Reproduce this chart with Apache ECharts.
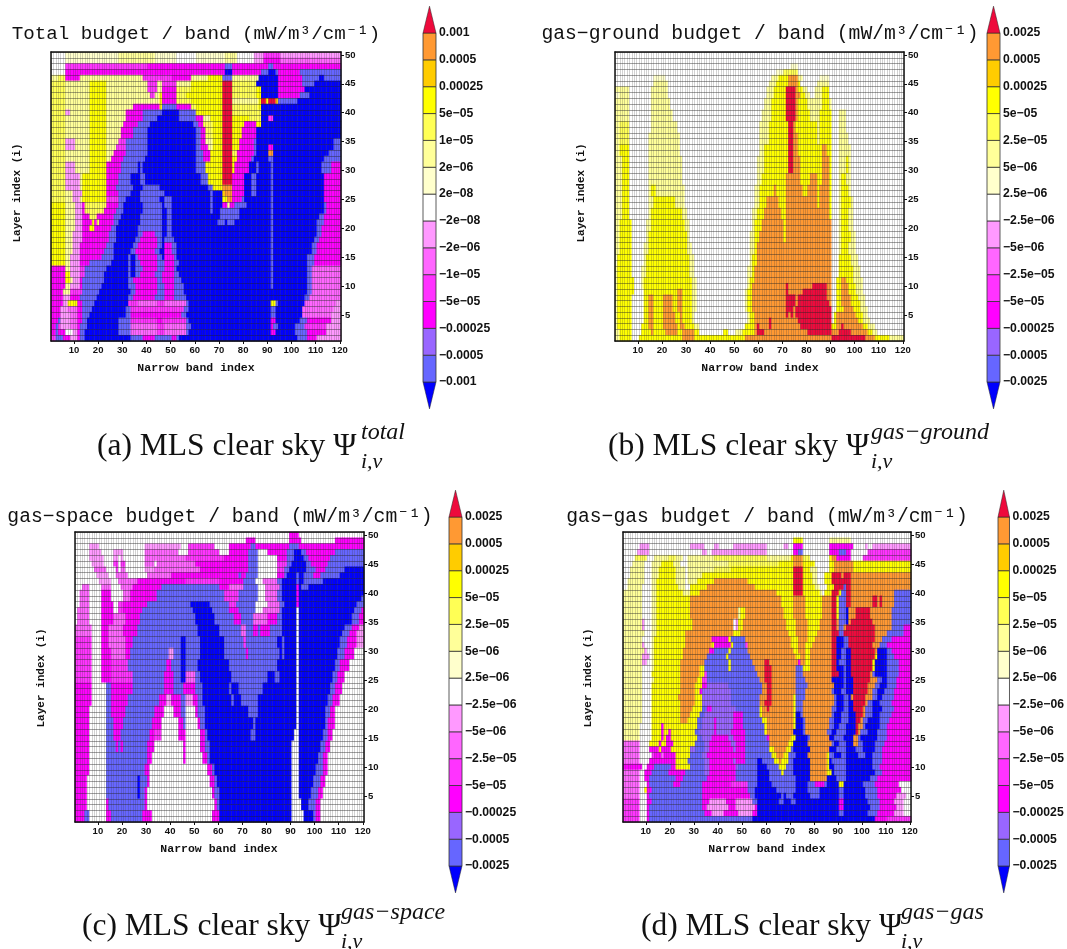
<!DOCTYPE html>
<html><head><meta charset="utf-8">
<style>html,body{margin:0;padding:0;background:#fff}#c{width:1067px;height:949px}</style>
<script src="https://cdn.jsdelivr.net/npm/echarts@6/dist/echarts.min.js"></script>
</head><body><div id="c"></div>
<script>
// Class letters, from lowest to highest budget class
const classLetters = "bsvmjilwpuyYGOR";
const classColors = ["#0000ff","#6666ff","#9966ff","#ff00ff","#ff33ff","#ff66ff","#ff99ff","#ffffff","#ffffcc","#ffff99","#ffff55","#ffff00","#ffcc00","#ff9933","#ee0a3c"];

const totalTicks = ["−0.001","−0.0005","−0.00025","−5e−05","−1e−05","−2e−06","−2e−08","2e−08","2e−06","1e−05","5e−05","0.00025","0.0005","0.001"];
const otherTicks = ["−0.0025","−0.0005","−0.00025","−5e−05","−2.5e−05","−5e−06","−2.5e−06","2.5e−06","5e−06","2.5e−05","5e−05","0.00025","0.0005","0.0025"];

// Each row: layer 50 downward; "letter+last band" runs; "n*" repeats a row n times.
const totalRows = [
"w6 p28 u43 p52 w60 p72 u77 w84 l88 j95 l120",
"w6 p28 u43 p52 w60 p72 u77 w84 l88 m95 i120",
"w6 j40 m72 s75 m90 s92 m120",
"w6 m72 b75 m87 s90 b93 s94 m103 s120",
"u3 y6 m12 u38 j50 m58 u65 Y71 s75 u86 b94 m104 s111 b113 s120",
"y6 u16 Y23 u40 j44 u46 j52 u58 Y71 R75 y85 b94 m104 s109 b120",
"y6 u16 Y23 u40 j44 u46 m52 y58 Y71 R75 y85 Y87 b94 m105 b120",
"y6 u16 Y23 u41 j43 u45 Y46 m52 y56 Y71 R75 y85 Y87 b94 m103 s107 b120",
"y6 u16 Y23 u34 u45 Y46 m52 y58 Y71 R75 u86 Y87 R89 Y90 R93 G94 s102 b120",
"y6 u16 Y23 u34 m45 Y46 s52 m58 y60 Y71 R75 y86 Y87 b120",
"y6 l8 u16 Y23 u31 m38 s46 b53 s60 Y71 R75 y87 b120",
"y6 u16 Y23 u31 m38 s44 b53 s60 m63 u66 Y71 R75 Y82 y87 b90 j92 b120",
"y6 u16 Y23 u30 m36 s41 b59 s61 m63 y67 Y71 R75 Y80 m85 Y87 b120",
"2*y6 u16 Y23 u29 m34 s40 b60 s62 m64 y67 Y71 R75 Y79 m85 b120",
"y6 l10 u16 Y23 u28 j31 s40 b60 s62 m64 u67 Y71 R75 Y78 m84 s85 b117 s120",
"y6 l10 u16 Y23 u27 j31 s40 b60 s62 m65 u67 Y71 R75 Y78 m84 s85 b90 m92 b117 s120",
"y6 u16 Y23 u26 m31 s40 b60 s63 m66 Y71 R75 y77 m84 s85 b90 O92 b115 s120",
"y6 u16 Y23 u25 m30 s39 b60 s63 m66 Y71 R75 Y77 m83 s84 b90 s92 b113 s120",
"2*y6 l10 u16 Y23 m29 s36 b37 s38 b60 s64 Y71 R75 Y76 m82 b85 s86 b91 s92 b112 s116 m120",
"2*y6 l12 u13 Y23 m28 s33 b37 s39 b62 s65 Y71 R75 m80 b83 s85 b91 s92 b113 m120",
"y6 l12 u13 Y23 m27 s34 b38 s45 b65 s67 Y71 O75 m80 b83 s85 b91 s92 b113 m120",
"y6 u9 l13 Y23 m28 s33 b37 s47 b66 s67 b71 G72 O75 m80 b83 s85 b91 s92 b113 m120",
"y6 u9 l12 u13 Y23 j28 s31 b37 s45 b47 s50 b66 s67 b71 Y73 O75 m79 s80 b91 s92 b113 m120",
"Y6 u10 l13 m14 y23 m28 s30 b38 s46 b47 s50 b66 s67 b71 m73 u74 m76 s81 b91 s92 b113 s114 m120",
"Y6 u10 l13 m14 y22 m27 s30 b38 s46 b48 s50 b66 s67 b70 s78 b91 s92 b113 s114 m120",
"Y6 u10 l13 m16 y19 m26 s29 b37 s46 b48 s50 b70 s78 b91 s92 b111 s113 m120",
"Y6 u10 l13 m17 Y18 m19 y20 m26 s28 b37 s46 b48 s50 b69 s72 b73 s76 b91 s92 b110 s113 m120",
"Y6 u10 l13 m16 Y18 m25 s27 b36 s46 b48 s50 b91 s92 b110 s112 m120",
"Y6 u9 l13 m24 s27 b36 s38 m43 s46 b48 s50 b91 s92 b110 s112 m120",
"Y6 u9 l13 m24 s27 b35 s37 m44 s46 b47 s51 b91 s92 b109 s111 m120",
"Y6 u9 l12 m23 s26 b34 s36 m44 s46 b47 m50 s52 b91 s92 b108 s110 m120",
"Y6 u9 l12 m22 s26 b33 s35 m43 s45 b47 m50 s52 b91 s92 b108 s110 m120",
"Y6 u8 l12 m21 s26 b32 s33 b35 s36 m44 s46 b47 m51 s52 b91 s92 b106 s109 m120",
"Y6 u8 l12 m16 s25 b32 s33 b35 s37 m44 s47 m51 s53 b91 s92 b106 s109 m120",
"m6 u8 l12 j14 s23 b32 s33 b35 s38 m44 s47 m51 s52 b91 s92 b106 s108 i120",
"m6 Y8 l12 j14 s22 b32 s33 b35 s37 m43 s46 m51 s53 b91 s92 b106 s108 i120",
"m6 Y8 u9 l12 m13 s22 b32 s34 m44 s46 m51 s54 b91 s92 b106 s108 i120",
"m6 u8 l12 m13 s21 b32 s35 m44 s47 m51 s55 b91 s92 b106 s108 i120",
"m5 u8 j13 s20 b33 s35 m44 s47 m51 s55 b106 s108 i120",
"m5 l8 m12 s19 b32 s34 m43 s47 m51 s56 b105 s107 i120",
"m5 l7 Y11 m13 s18 b32 j36 i44 j47 i56 s57 b91 Y93 s94 b105 i118 l120",
"m4 l7 i11 m13 s17 b31 s33 j55 s57 b91 s93 b104 i117 l120",
"m4 l8 i11 m13 s16 b31 s33 m54 s56 b91 s93 b104 i116 l120",
"m3 s4 l8 i11 m13 s15 b28 s33 j44 m46 j56 s57 b91 m93 b103 s106 m116 l120",
"m2 s3 j4 l8 i11 m12 s15 b28 s33 i44 j47 i56 s58 b91 m92 s94 b101 s105 j114 l120",
"m2 s3 m6 w9 l11 m12 s14 b28 s33 i44 j47 i56 s57 b91 m93 b101 s106 m114 l120",
"j2 s5 m8 l11 m12 s14 b33 s38 m43 s50 m52 s53 b102 s106 m110 l120"
];

const groundRows = [
"2*w120",
"w73 p76 w120",
"w67 p70 y76 w120",
"w16 p21 w65 u68 Y72 O76 u78 w85 p89 w120",
"w16 u22 w64 u67 Y72 O76 Y77 w84 u89 w120",
"u6 w15 u22 w63 u66 Y71 R75 O76 Y78 u80 w83 u86 Y89 w120",
"p2 u6 w15 u22 w63 u66 Y71 R75 O77 Y79 u81 w83 u86 Y89 w120",
"2*u6 w15 u23 w62 u65 Y71 R75 O76 Y80 u84 u86 Y89 u90 w120",
"2*u6 w15 u24 w61 u65 Y71 R75 O76 Y81 u83 u85 Y90 w93 u96 w120",
"2*u2 y6 w15 u26 w60 u64 Y72 R74 O75 Y84 u85 Y90 w93 u96 w120",
"2*u2 y6 w14 u27 w60 u64 Y72 R74 O76 Y84 u85 Y90 w93 u97 w120",
"2*u2 Y6 w14 u27 w60 u62 Y72 R74 O76 Y86 O88 Y90 w93 u98 w120",
"3*u3 Y6 w14 u28 w59 u62 Y72 R74 O77 Y86 O89 Y90 w93 u96 Y97 u98 w120",
"2*u3 Y6 w14 u28 w59 u61 Y71 O77 Y81 O84 Y86 O89 Y90 w93 u94 Y96 u98 w120",
"2*u3 Y6 w14 u15 Y17 u29 w58 u60 Y66 O67 Y71 O78 Y80 O84 Y85 O89 Y90 w93 u94 Y97 u98 w120",
"2*u3 Y6 w14 u16 Y25 u29 w58 u60 Y63 O68 Y71 O84 Y85 O89 Y90 w93 u94 Y98 u99 w120",
"2*u3 Y6 w14 u15 Y28 u30 w57 u59 Y62 O69 Y71 O89 Y90 w93 u94 Y97 u99 w120",
"2*u2 Y7 w13 u15 Y29 u31 w57 u58 Y61 O70 Y71 O90 w93 u94 Y97 u99 w120",
"2*u2 Y7 w13 u14 Y30 u31 w56 u58 Y60 O70 Y71 O90 w93 u94 Y98 u100 w120",
"2*u2 Y7 w12 u14 Y30 u32 w56 u58 Y59 O90 w93 u94 Y97 u100 w120",
"2*p1 Y7 w12 u13 Y31 u33 w56 u57 Y59 O90 w93 Y98 u101 w120",
"2*u1 Y7 w11 u13 Y31 u33 w55 u57 Y58 O90 w93 Y99 u102 w120",
"u1 Y8 w11 u12 Y32 u34 w55 u56 Y58 O90 w92 Y94 O96 Y99 u103 w120",
"u1 Y8 w11 u12 Y32 u34 w55 u56 Y57 O71 R72 O82 R88 O90 w92 Y94 O97 Y100 u103 w120",
"u1 Y8 w12 Y14 Y20 Y26 O28 Y32 u34 w54 u55 Y57 O71 R72 O78 R88 O90 w92 Y94 O97 Y100 u103 w120",
"u1 Y7 w12 Y14 O16 Y20 O24 Y26 O28 Y32 u34 w54 u55 Y57 O71 R75 O76 R88 O90 w92 Y94 O98 Y101 u104 w120",
"u1 Y7 w12 Y14 O16 Y20 O24 Y26 O28 Y32 u34 w54 u55 Y57 O71 R75 O76 R89 O90 w92 Y94 O98 Y102 u104 w120",
"u1 Y7 w12 Y14 O16 Y20 O24 Y26 O28 Y32 u34 w54 u55 Y57 O71 R74 O75 R90 w92 Y95 O99 Y102 u105 w120",
"u1 Y7 w12 Y14 O16 Y20 O25 Y27 O28 Y32 u33 w55 u56 Y58 O71 R72 O73 R74 O75 R90 w91 Y92 O100 Y103 u105 w120",
"u1 Y7 w12 Y14 O16 Y20 O25 Y27 O28 Y32 u33 w55 u56 Y58 O64 R65 O76 R90 w91 Y92 O101 Y103 u106 w120",
"u1 Y7 w11 Y14 O16 Y20 O26 Y27 O29 Y33 u35 w54 Y58 O59 R60 O64 R65 O77 R90 Y92 O94 R95 O103 Y105 u108 w120",
"u2 Y7 w11 Y15 O16 Y21 O26 Y28 O33 Y35 w45 Y47 w50 u53 Y58 O59 R62 O80 R90 O93 R98 O105 Y107 u109 w120",
"u2 Y7 w10 Y28 O33 Y54 O90 R104 O108 Y114 u120"
];

const spaceRows = [
"w89 m93 w120",
"w71 m75 w89 m94 w108 m120",
"w6 l10 w29 l44 w47 j58 w64 m73 s75 m89 s93 m120",
"w6 l11 w16 l20 w29 i43 w47 j60 w64 m72 s76 w80 m88 s91 b94 s96 m108 s120",
"w6 l12 w16 l18 w19 l20 w29 i46 j62 m72 s76 w84 m88 s91 b95 s97 m106 s120",
"w7 l12 w16 j18 w19 j21 w29 i33 w34 i50 m72 s76 w84 j88 s90 b96 s98 m105 s120",
"w8 i13 w17 j18 w19 i21 w29 l33 i52 m72 s76 w84 j87 s89 b96 s100 m104 s112 b120",
"w9 l14 w17 i22 w30 i40 m68 s69 m71 s76 w84 m87 s88 b92 s93 b95 s99 m102 s110 b120",
"w10 l15 w18 i26 m46 j60 m70 s75 w78 i84 s86 b92 s93 b95 s103 b120",
"w3 i6 w11 i15 w19 i24 m36 s60 m64 i70 s76 w79 i85 s86 b92 m93 b94 s97 b120",
"w2 i6 w11 m15 w20 i23 m34 s62 j68 s76 w79 i84 s86 b92 m93 b120",
"w2 i6 w11 m15 w20 i23 m34 s62 j68 s76 w79 i84 s86 b92 m93 b119 s120",
"w2 i6 w11 m16 w18 j20 m30 s48 b56 s64 j67 s75 w80 i85 s87 b92 m93 b117 s120",
"w1 i6 w11 m16 w18 j20 m28 s49 b57 s64 m68 s75 w78 i85 s86 b92 w93 b116 s119 m120",
"2*w1 i6 w11 m16 i21 m27 s50 b58 s66 m69 s74 i80 m84 s86 b92 w93 b115 s118 m120",
"i7 w11 m14 i20 m26 s51 b60 s69 i71 s74 m76 s77 m81 s86 b92 w93 b112 s115 m118 l120",
"i7 w11 m14 i20 m26 s51 b60 s69 i71 s74 m76 s77 m81 s86 b92 w93 b111 s114 m117 l120",
"2*j7 w11 m14 i21 m24 s44 b46 s52 b62 s70 j71 s84 b86 s87 b92 w93 b110 s113 m117 l120",
"2*j7 w11 m15 i21 m23 s39 l41 s44 b46 s52 b62 s71 m72 s85 b86 s87 b92 w93 b109 s112 m116 w120",
"2*j7 w11 m15 j22 s38 m40 s44 b46 s51 b64 s84 b92 w93 b108 s110 m114 w120",
"2*j7 w11 m15 j24 s37 m41 s44 b46 i50 s52 b65 s80 b83 s85 b92 w93 b107 s109 m112 w120",
"2*m7 w13 s15 m24 s37 m41 s45 m50 s53 b64 s65 b68 s78 b92 w93 b106 s108 m111 w120",
"2*m7 w13 s15 m22 s35 m38 l40 m44 s46 l49 m51 s53 b65 s66 b69 s76 b92 w93 b105 s107 m110 w120",
"2*m6 w13 s15 m21 s33 m37 w41 m44 s46 w50 m51 s54 b72 s76 b92 w93 b104 s106 m108 w120",
"2*m6 w13 s16 m20 s32 m36 w43 m45 s46 w51 m52 s54 b74 s75 b92 w93 b104 s105 m108 w120",
"2*m6 w13 s16 m19 s31 m33 j36 w43 m46 w52 m54 s55 b73 s75 b91 w93 b103 s105 m107 w120",
"2*m6 w13 s17 m18 s19 m20 s30 m33 w45 m46 w52 m54 s56 b90 w93 b102 s104 m106 w120",
"2*m6 w13 s30 m32 w45 m46 w53 m55 s56 b90 w93 b101 s103 m105 w120",
"2*m6 w13 s29 m31 w55 m57 s58 b90 w93 b100 s103 m105 w120",
"2*m5 w13 s26 b27 s30 m31 w56 m58 s59 b90 w93 b99 s102 m104 w120",
"2*m5 w13 s26 b27 s29 m30 w57 m58 s60 b90 w93 b98 s101 m103 w120",
"2*m5 w13 m14 s29 m30 w58 m59 s60 b90 w94 b97 s100 m102 w120",
"2*m4 s6 w13 m15 s28 m32 w57 m60 b90 w95 b99 s100 m102 w120"
];

const gasRows = [
"w120",
"w71 Y75 w86 u95 w120",
"w7 l11 w28 l34 w38 l40 w46 l60 w67 l69 w71 m75 w86 m96 w101 l102 w104 l120",
"w6 l11 w33 l35 w37 l60 w71 m73 s75 w86 m90 s93 m95 w102 j120",
"w5 y10 w13 u19 y22 u25 w27 u38 y60 u70 Y71 O75 y78 w86 Y87 O89 m95 w100 j120",
"w4 u9 w12 u16 Y21 u24 w27 u44 y65 Y71 O75 Y80 w86 Y88 O96 Y120",
"w3 u9 w12 u15 Y22 u26 w27 u38 y45 Y71 R75 Y78 u81 w86 Y88 O96 Y120",
"w3 u9 w12 u15 Y22 u26 w27 u33 Y46 Y71 R75 Y79 u81 w84 Y87 R91 O92 R95 O120",
"w2 u9 w12 u14 Y22 u26 w27 u31 Y38 O52 Y71 R75 Y79 u81 w84 Y87 R95 O120",
"w2 u8 w12 u14 Y23 u26 w28 Y35 O55 Y71 R75 Y80 u82 w85 Y88 R92 s93 R95 O120",
"u8 w12 u14 Y25 u28 Y32 O64 Y71 R75 Y82 u83 w84 Y87 R90 Y91 s93 R95 O113 s120",
"2*u8 w12 u14 Y28 O66 Y71 O76 Y83 O87 R89 Y90 s93 R95 O104 R106 O107 R108 O113 s120",
"2*u8 w12 u14 Y28 O48 u49 Y51 O67 Y71 O76 Y83 O87 R89 Y90 s93 b94 O97 R103 O112 s120",
"u8 l9 w12 u14 Y29 O46 w47 l48 Y50 O68 Y72 O77 Y82 O87 R89 O90 s93 b94 O95 R104 O112 s120",
"u8 l9 w12 u14 Y29 O46 w47 l48 Y50 O68 Y72 O77 Y82 O87 R89 O90 s92 O93 R105 O112 s117 m120",
"u9 w12 u14 Y26 O46 Y49 O69 Y72 O77 Y81 O87 R90 s92 R105 O110 s117 m120",
"u8 w12 u13 Y26 O37 m44 Y45 s51 O70 Y73 O77 Y80 O87 R89 b92 s94 R105 O108 s112 m120",
"u8 l9 w12 u13 Y26 O37 Y38 m45 Y46 s51 j52 O70 Y73 O76 Y79 O87 R89 b92 s94 R104 O107 s110 m120",
"u9 l10 w12 u13 Y25 O36 m38 s44 Y45 s52 O71 Y73 O76 Y78 O87 R89 b91 s93 b95 R105 O106 b110 s112 m120",
"u8 l11 w12 u13 Y25 O35 s43 Y44 s53 O72 Y74 O76 Y78 O87 R89 b91 s93 b95 R105 Y106 b110 s113 m120",
"u8 l10 w12 u13 Y24 O34 s44 Y45 s54 O59 R61 O73 m74 O76 Y78 O87 R89 b90 s93 b95 R104 Y105 b110 s115 m120",
"u8 w12 u13 Y24 O32 Y34 s44 Y45 s55 O59 R62 O72 s75 Y78 O87 R89 b92 s93 b95 R104 Y105 b110 s115 m120",
"u8 w12 Y24 O32 Y34 j35 s56 O59 R62 O72 s75 O87 R90 b92 s93 b95 R103 O104 s105 b110 s115 m120",
"u8 w12 u13 Y24 O31 Y33 j35 s57 O59 R62 O72 s76 O87 b92 s93 b96 R103 O106 s108 b110 s114 m120",
"u8 w12 Y24 O30 Y33 m35 v44 s58 O60 R62 O72 s77 O88 b92 s93 b96 R102 O105 s107 b110 s114 m120",
"u8 w12 Y24 O30 Y32 m33 v45 s58 O60 R62 O72 s76 O87 s88 b91 s93 b96 R102 O104 s106 b109 s113 m120",
"u8 w12 Y23 O30 Y33 v45 s57 O60 R62 O71 Y72 s76 O88 s89 b92 s94 b95 O96 R101 O104 s106 b108 s113 m120",
"u8 w12 Y24 O30 Y33 v45 s57 O59 R62 O71 Y72 s75 O88 s89 b92 s94 b96 R101 O102 s104 b107 s112 m120",
"u8 w12 Y24 O29 Y33 s35 m37 v47 s57 Y58 O60 R61 O71 Y72 s75 O87 s89 b92 s94 b96 R100 O101 s104 b108 s113 m120",
"u8 w12 Y24 O28 Y32 s34 v46 m50 s57 Y58 O71 Y72 b74 s75 O87 s88 b91 s94 b97 R100 O101 s104 b107 s112 m120",
"u8 w12 Y24 O27 Y31 s33 v38 m39 v46 m50 s58 Y60 O71 Y72 b75 s76 O86 s88 b91 s94 b97 R99 O100 s102 b107 s111 m120",
"u7 w12 Y16 m17 Y20 Y31 s33 v38 m39 v46 m50 s59 Y60 O71 Y72 b75 s76 O86 s88 b90 s93 b97 R98 O100 s101 b107 s110 m120",
"u7 w12 Y16 m17 Y19 m20 Y30 s32 v38 m39 v45 m51 s59 Y60 O71 b75 s76 O85 s87 b89 s93 b97 R98 O99 s102 b106 s110 m120",
"u7 w12 Y16 m17 Y18 m20 Y31 s33 v37 m44 v46 m51 s60 m61 O70 Y72 b77 s78 O86 b88 s92 b96 O98 s99 b106 s110 m120",
"i7 w11 Y15 m16 Y18 m21 Y30 s34 v36 m45 v47 m51 s61 O69 Y71 b77 O87 s88 b90 s93 b96 O98 s100 b105 s109 m120",
"i7 w11 m15 Y16 m20 Y28 v30 s34 v36 m46 v47 m51 s61 Y63 O68 Y70 s71 b78 O86 b89 s93 b97 s100 b105 s108 m120",
"i7 w12 j13 m16 i17 m22 Y28 s33 v35 m47 m51 s62 Y64 O67 Y69 s72 b77 O85 Y86 s88 b91 s93 b98 s101 b104 s108 m120",
"i7 w11 m22 Y27 s34 v36 m46 v47 m51 s56 b58 s63 Y65 O66 Y69 s71 b78 O85 Y86 b87 s93 b104 s108 m120",
"m8 w10 m13 s20 m22 Y28 s34 v36 m47 v48 s56 b60 s65 Y68 s71 b78 O85 Y86 b88 s93 b104 s107 m120",
"i7 w9 m12 s19 m26 s34 v36 m47 s56 b61 s66 Y67 s71 b78 O85 Y87 b88 s93 b105 s108 m120",
"i7 w9 m11 s22 m25 s35 m47 s56 b61 s72 b78 O85 b89 s93 b103 s106 m120",
"i7 w10 m11 s21 m24 s33 m45 j52 s56 b62 s72 b77 s80 m84 s85 b90 Y92 b100 s105 m115 w120",
"i7 w9 Y10 m12 s33 m52 s55 b64 s72 b77 s82 b90 s92 b101 s106 m116 w120",
"i7 w10 m11 s33 m53 s55 b66 s67 b68 s71 b78 s82 b90 s92 b101 s106 m114 l118 w120",
"j7 w10 m12 s33 m36 l43 m47 l54 s56 b65 s67 b70 s72 b90 m92 b102 s107 m113 l117 w120",
"j7 w10 m11 s33 m35 l44 m47 l55 m56 b90 m92 b103 s107 m114 l117 w120",
"j7 w10 m11 s34 m37 l42 m48 l54 m56 b90 s92 b102 s106 m113 l117 w120",
"j7 w10 m11 s54 b105 m110 j120"
];

const panelTitles = ["Total budget / band (mW/m³/cm⁻¹)","gas−ground budget / band (mW/m³/cm⁻¹)","gas−space budget / band (mW/m³/cm⁻¹)","gas−gas budget / band (mW/m³/cm⁻¹)"];
const captions = ["(a) MLS clear sky Ψ","(b) MLS clear sky Ψ","(c) MLS clear sky Ψ","(d) MLS clear sky Ψ"];
const captionSup = ["total","gas−ground","gas−space","gas−gas"];

const bands = Array.from({length:120},(_,i)=>String(i+1));
const layers = Array.from({length:50},(_,i)=>String(i+1));

function expand(rows){
  const out=[]; const lines=[];
  rows.forEach(s=>{const m=s.match(/^(\d+)\*(.*)$/); const n=m?+m[1]:1; const t=m?m[2]:s; for(let k=0;k<n;k++)lines.push(t);});
  if(lines.length!==50) console.error("rows",lines.length);
  lines.slice(0,50).forEach((line,idx)=>{
    const layer=49-idx; let cur=0, last=7;
    line.split(" ").forEach(tok=>{
      last=classLetters.indexOf(tok[0]); const end=+tok.slice(1);
      for(;cur<end;cur++) out.push([cur,layer,last]);
    });
  });
  return out;
}

const panels=[
 {rows:totalRows,ticks:totalTicks,box:[51,52,290,289],bar:423,barTop:33,title:[196,34],tf:19.2,cap:[97,460],cw:263,ytitle:[17,193],xt:[196,368]},
 {rows:groundRows,ticks:otherTicks,box:[615,52,289,289],bar:987,barTop:33,title:[760,34],tf:19.7,cap:[608,460],cw:262,ytitle:[581,193],xt:[760,368]},
 {rows:spaceRows,ticks:otherTicks,box:[75,532,289,290],bar:449,barTop:517,title:[220,517],tf:19.7,cap:[82,940],cw:258,ytitle:[41,678],xt:[219,849]},
 {rows:gasRows,ticks:otherTicks,box:[623,532,288,290],bar:998,barTop:517,title:[767,517],tf:19.7,cap:[641,940],cw:259,ytitle:[588,678],xt:[767,849]}
];
const labelFont="'Liberation Sans',Arial,sans-serif", monoFont="'Liberation Mono',monospace", serifFont="'Liberation Serif',serif";
const BLOCK=26.85;
const grid=[],xAxis=[],yAxis=[],series=[],graphic=[],visualMap=[];
panels.forEach((p,k)=>{
  const g=grid.length;
  grid.push({left:p.box[0],top:p.box[1],width:p.box[2],height:p.box[3],containLabel:false});
  const line={show:true,lineStyle:{color:'#111',width:1.5}};
  const xi=xAxis.length, yi=yAxis.length;
  xAxis.push({type:'category',gridIndex:g,data:bands,position:'bottom',z:5,axisLine:line,
    axisTick:{show:true,alignWithLabel:true,length:3,interval:(i)=>(i+1)%10===0,lineStyle:{color:'#111'}},
    axisLabel:{interval:(i)=>(i+1)%10===0,fontFamily:labelFont,fontWeight:'bold',fontSize:9.5,color:'#111',margin:4},
    splitLine:{show:true,interval:0,lineStyle:{color:'rgba(50,50,50,0.22)',width:1}}});
  xAxis.push({type:'category',gridIndex:g,data:bands,position:'top',z:5,axisLine:line,axisTick:{show:false},axisLabel:{show:false},splitLine:{show:false}});
  yAxis.push({type:'category',gridIndex:g,data:layers,position:'right',z:5,axisLine:line,
    axisTick:{show:true,alignWithLabel:true,length:3,interval:(i)=>(i+1)%5===0,lineStyle:{color:'#111'}},
    axisLabel:{interval:(i)=>(i+1)%5===0,fontFamily:labelFont,fontWeight:'bold',fontSize:9.5,color:'#111',margin:4},
    splitLine:{show:true,interval:0,lineStyle:{color:'rgba(30,30,30,0.42)',width:1}}});
  yAxis.push({type:'category',gridIndex:g,data:layers,position:'left',z:5,axisLine:line,axisTick:{show:false},axisLabel:{show:false},splitLine:{show:false}});
  series.push({type:'heatmap',xAxisIndex:xi,yAxisIndex:yi,data:expand(p.rows),progressive:0,animation:false,silent:true,emphasis:{disabled:true}});
  visualMap.push({show:false,type:'piecewise',seriesIndex:series.length-1,dimension:2,
    pieces:classColors.map((c,i)=>({value:i,color:c}))});
});
panels.forEach((p,k)=>{
  const g=grid.length;
  grid.push({left:p.bar,top:p.barTop-BLOCK,width:13,height:BLOCK*15});
  const xi=xAxis.length, yi=yAxis.length;
  xAxis.push({type:'value',gridIndex:g,min:0,max:1,show:false});
  yAxis.push({type:'value',gridIndex:g,min:-1,max:14,interval:1,position:'right',
    axisLine:{show:false},axisTick:{show:false},splitLine:{show:false},
    axisLabel:{show:true,margin:3,fontFamily:labelFont,fontWeight:'bold',fontSize:12.2,color:'#111',
      showMinLabel:false,showMaxLabel:false,
      formatter:(v)=>p.ticks[v]||''}});
  series.push({type:'custom',xAxisIndex:xi,yAxisIndex:yi,silent:true,animation:false,z:3,
    data:classColors.map((c,i)=>[i]),
    encode:{y:0},
    renderItem:(params,api)=>{
      const i=api.value(0);
      const a=api.coord([0,i-1]), b=api.coord([1,i]);
      const color=classColors[i];
      if(i===0) return {type:'polygon',shape:{points:[[a[0]+(b[0]-a[0])/2,a[1]],[a[0],b[1]],[b[0],b[1]]]},style:{fill:color,stroke:'#222',lineWidth:0.5}};
      if(i===14) return {type:'polygon',shape:{points:[[a[0],a[1]],[b[0],a[1]],[a[0]+(b[0]-a[0])/2,b[1]]]},style:{fill:color,stroke:'#222',lineWidth:0.5}};
      return {type:'rect',shape:{x:a[0],y:b[1],width:b[0]-a[0],height:a[1]-b[1]},style:{fill:color,stroke:'#333',lineWidth:0.8}};
    }});
  graphic.push({type:'text',x:p.title[0],y:p.title[1],style:{text:panelTitles[k],font:`${p.tf}px ${monoFont}`,fill:'#111',align:'center',verticalAlign:'middle'}});
  graphic.push({type:'text',x:p.xt[0],y:p.xt[1],style:{text:'Narrow band index',font:`bold 11.5px ${monoFont}`,fill:'#111',align:'center',verticalAlign:'middle'}});
  graphic.push({type:'text',x:p.ytitle[0],y:p.ytitle[1],rotation:Math.PI/2,style:{text:'Layer index (i)',font:`bold 11px ${monoFont}`,fill:'#111',align:'center',verticalAlign:'middle'}});
  graphic.push({type:'text',x:p.cap[0],y:p.cap[1]+3,style:{text:captions[k],font:`31.5px ${serifFont}`,fill:'#111',align:'left',verticalAlign:'bottom'}});
  graphic.push({type:'text',x:p.cap[0]+p.cw+1,y:p.cap[1]-15,style:{text:captionSup[k],font:`italic 24px ${serifFont}`,fill:'#111',align:'left',verticalAlign:'bottom'}});
  graphic.push({type:'text',x:p.cap[0]+p.cw+1,y:p.cap[1]+13,style:{text:'i,ν',font:`italic 22px ${serifFont}`,fill:'#111',align:'left',verticalAlign:'bottom'}});
});
const chart=echarts.init(document.getElementById('c'),null,{renderer:'canvas'});
chart.setOption({animation:false,backgroundColor:'#fff',grid,xAxis,yAxis,series,visualMap,graphic});
</script></body></html>
